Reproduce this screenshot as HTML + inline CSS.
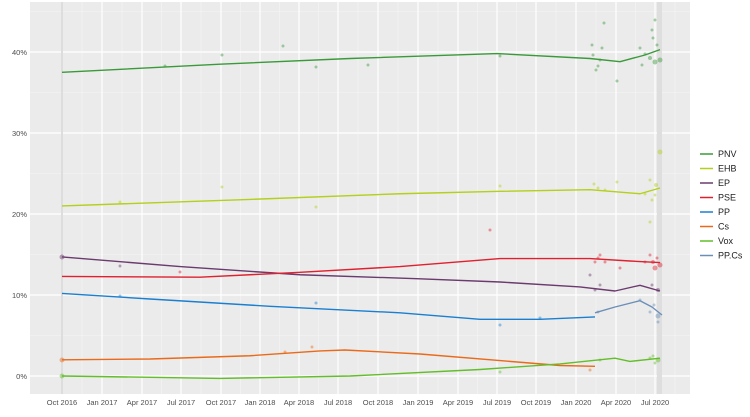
<!DOCTYPE html><html><head><meta charset="utf-8"><style>body{margin:0;background:#fff}svg{display:block;font-family:"Liberation Sans",sans-serif}</style></head><body>
<svg width="750" height="417" viewBox="0 0 750 417">
<rect x="30" y="2" width="660" height="392" fill="#ebebeb"/>
<g stroke="#f5f5f5" stroke-width="0.6">
<line x1="30" x2="690" y1="335.5" y2="335.5"/><line x1="30" x2="690" y1="254.5" y2="254.5"/><line x1="30" x2="690" y1="173.5" y2="173.5"/><line x1="30" x2="690" y1="92.5" y2="92.5"/><line x1="30" x2="690" y1="11.5" y2="11.5"/>
<line y1="2" y2="394" x1="82" x2="82"/><line y1="2" y2="394" x1="122" x2="122"/><line y1="2" y2="394" x1="161.5" x2="161.5"/><line y1="2" y2="394" x1="201" x2="201"/><line y1="2" y2="394" x1="240.5" x2="240.5"/><line y1="2" y2="394" x1="279.5" x2="279.5"/><line y1="2" y2="394" x1="318.5" x2="318.5"/><line y1="2" y2="394" x1="358" x2="358"/><line y1="2" y2="394" x1="398" x2="398"/><line y1="2" y2="394" x1="438" x2="438"/><line y1="2" y2="394" x1="477.5" x2="477.5"/><line y1="2" y2="394" x1="516.5" x2="516.5"/><line y1="2" y2="394" x1="556" x2="556"/><line y1="2" y2="394" x1="596" x2="596"/><line y1="2" y2="394" x1="635.5" x2="635.5"/><line y1="2" y2="394" x1="675" x2="675"/>
</g>
<g stroke="#fff" stroke-width="1.2">
<line x1="30" x2="690" y1="376" y2="376"/><line x1="30" x2="690" y1="295" y2="295"/><line x1="30" x2="690" y1="214" y2="214"/><line x1="30" x2="690" y1="133" y2="133"/><line x1="30" x2="690" y1="52" y2="52"/>
<line y1="2" y2="394" x1="102" x2="102"/><line y1="2" y2="394" x1="142" x2="142"/><line y1="2" y2="394" x1="181" x2="181"/><line y1="2" y2="394" x1="221" x2="221"/><line y1="2" y2="394" x1="260" x2="260"/><line y1="2" y2="394" x1="299" x2="299"/><line y1="2" y2="394" x1="338" x2="338"/><line y1="2" y2="394" x1="378" x2="378"/><line y1="2" y2="394" x1="418" x2="418"/><line y1="2" y2="394" x1="458" x2="458"/><line y1="2" y2="394" x1="497" x2="497"/><line y1="2" y2="394" x1="536" x2="536"/><line y1="2" y2="394" x1="576" x2="576"/><line y1="2" y2="394" x1="616" x2="616"/><line y1="2" y2="394" x1="655" x2="655"/>
</g>
<rect x="61" y="2" width="2" height="392" fill="#ddd"/><rect x="657" y="2" width="5" height="392" fill="#dedede"/>
<g fill-opacity="0.45" stroke="none">
<g fill="#3a9a3a"><circle cx="165" cy="66" r="1.5"/><circle cx="222" cy="55" r="1.5"/><circle cx="283" cy="46" r="1.5"/><circle cx="316" cy="67" r="1.5"/><circle cx="368" cy="65" r="1.5"/><circle cx="500" cy="56" r="1.5"/><circle cx="592" cy="45" r="1.5"/><circle cx="600" cy="60" r="1.5"/><circle cx="604" cy="23" r="1.5"/><circle cx="596" cy="70" r="1.5"/><circle cx="617" cy="81" r="1.5"/><circle cx="640" cy="48" r="1.5"/><circle cx="652" cy="30" r="1.5"/><circle cx="655" cy="62" r="2.5"/><circle cx="660" cy="60" r="2.5"/><circle cx="655" cy="20" r="1.5"/><circle cx="593" cy="55" r="1.5"/><circle cx="602" cy="48" r="1.5"/><circle cx="598" cy="66" r="1.5"/><circle cx="650" cy="58" r="2"/><circle cx="653" cy="38" r="1.5"/><circle cx="657" cy="45" r="1.5"/><circle cx="645" cy="54" r="1.5"/><circle cx="642" cy="65" r="1.5"/></g>
<g fill="#b5cf1a"><circle cx="120" cy="202" r="1.5"/><circle cx="222" cy="187" r="1.5"/><circle cx="316" cy="207" r="1.5"/><circle cx="500" cy="186" r="1.5"/><circle cx="594" cy="184" r="1.5"/><circle cx="605" cy="190" r="1.5"/><circle cx="617" cy="182" r="1.5"/><circle cx="650" cy="180" r="1.5"/><circle cx="655" cy="195" r="1.5"/><circle cx="660" cy="152" r="2.5"/><circle cx="650" cy="222" r="1.5"/><circle cx="598" cy="188" r="1.5"/><circle cx="652" cy="200" r="1.5"/><circle cx="656" cy="185" r="2"/><circle cx="645" cy="194" r="1.5"/></g>
<g fill="#e0202e"><circle cx="490" cy="230" r="1.5"/><circle cx="600" cy="255" r="1.5"/><circle cx="605" cy="262" r="1.5"/><circle cx="620" cy="268" r="1.5"/><circle cx="650" cy="255" r="1.5"/><circle cx="655" cy="268" r="2.5"/><circle cx="660" cy="265" r="2.5"/><circle cx="180" cy="272" r="1.5"/><circle cx="595" cy="262" r="1.5"/><circle cx="598" cy="258" r="1.5"/><circle cx="653" cy="262" r="2"/><circle cx="657" cy="258" r="1.5"/><circle cx="645" cy="262" r="1.5"/></g>
<g fill="#6b3a6e"><circle cx="62" cy="257" r="2.5"/><circle cx="120" cy="266" r="1.5"/><circle cx="590" cy="275" r="1.5"/><circle cx="600" cy="285" r="1.5"/><circle cx="658" cy="290" r="2"/><circle cx="595" cy="290" r="1.5"/><circle cx="652" cy="285" r="1.5"/></g>
<g fill="#1a7fd0"><circle cx="120" cy="296" r="1.5"/><circle cx="316" cy="303" r="1.5"/><circle cx="500" cy="325" r="1.5"/><circle cx="540" cy="318" r="1.5"/></g>
<g fill="#6b8fb8"><circle cx="640" cy="300" r="1.5"/><circle cx="650" cy="312" r="1.5"/><circle cx="658" cy="316" r="2.5"/><circle cx="658" cy="322" r="1.5"/><circle cx="598" cy="312" r="1.5"/><circle cx="654" cy="305" r="1.5"/></g>
<g fill="#ea6a1a"><circle cx="62" cy="360" r="2.5"/><circle cx="285" cy="352" r="1.5"/><circle cx="312" cy="347" r="1.5"/><circle cx="590" cy="370" r="1.5"/></g>
<g fill="#63be2a"><circle cx="62" cy="376" r="2.5"/><circle cx="500" cy="372" r="1.5"/><circle cx="600" cy="360" r="1.5"/><circle cx="650" cy="358" r="1.5"/><circle cx="658" cy="360" r="2.5"/><circle cx="653" cy="356" r="1.5"/><circle cx="655" cy="363" r="1.5"/></g>
</g>
<g fill="none" stroke-width="1.4" stroke-linejoin="round">
<polyline stroke="#3a9a3a" points="62,72.3 220,64.2 350,58.5 497,53.6 590,58.5 620,61.7 645,55 660,49.6"/>
<polyline stroke="#b5cf1a" points="62,205.9 250,199.4 400,193.75 500,191.3 590,189.7 640,193.75 660,188"/>
<polyline stroke="#6b3a6e" points="62,256.9 180,266.6 300,274.75 420,278.8 500,282 580,286.9 615,291 640,285.3 660,291"/>
<polyline stroke="#e0202e" points="62,276.4 200,277.2 300,272.3 400,266.6 500,258.55 590,258.55 630,261 660,262.6"/>
<polyline stroke="#1a7fd0" points="62,293.4 150,299 270,306.3 400,312.8 480,319.3 540,319.3 595,316.9"/>
<polyline stroke="#6b8fb8" points="595,312.8 615,307 640,300.7 652,307 662,315"/>
<polyline stroke="#ea6a1a" points="62,359.8 150,359 250,355.75 320,350.9 345,350 420,354 500,360.6 560,365.5 595,366.3"/>
<polyline stroke="#63be2a" points="62,376 220,378.4 350,376 480,369.5 560,363.9 615,358.2 630,361.4 660,358.2"/>
</g>
<g font-size="7.5" fill="#4d4d4d" text-anchor="end">
<text x="27" y="379">0%</text><text x="27" y="298">10%</text><text x="27" y="217">20%</text><text x="27" y="136">30%</text><text x="27" y="55">40%</text>
</g>
<g font-size="7.5" fill="#4d4d4d" text-anchor="middle">
<text x="62" y="405">Oct 2016</text><text x="102" y="405">Jan 2017</text><text x="142" y="405">Apr 2017</text><text x="181" y="405">Jul 2017</text><text x="221" y="405">Oct 2017</text><text x="260" y="405">Jan 2018</text><text x="299" y="405">Apr 2018</text><text x="338" y="405">Jul 2018</text><text x="378" y="405">Oct 2018</text><text x="418" y="405">Jan 2019</text><text x="458" y="405">Apr 2019</text><text x="497" y="405">Jul 2019</text><text x="536" y="405">Oct 2019</text><text x="576" y="405">Jan 2020</text><text x="616" y="405">Apr 2020</text><text x="655" y="405">Jul 2020</text>
</g>
<g stroke-width="1.5">
<line x1="700" x2="713" y1="154" y2="154" stroke="#3a9a3a"/><line x1="700" x2="713" y1="168.5" y2="168.5" stroke="#b5cf1a"/><line x1="700" x2="713" y1="183" y2="183" stroke="#6b3a6e"/><line x1="700" x2="713" y1="197.5" y2="197.5" stroke="#e0202e"/><line x1="700" x2="713" y1="212" y2="212" stroke="#1a7fd0"/><line x1="700" x2="713" y1="226.5" y2="226.5" stroke="#ea6a1a"/><line x1="700" x2="713" y1="241" y2="241" stroke="#63be2a"/><line x1="700" x2="713" y1="255.5" y2="255.5" stroke="#6b8fb8"/>
</g>
<g font-size="9" fill="#222">
<text x="718" y="157">PNV</text><text x="718" y="171.5">EHB</text><text x="718" y="186">EP</text><text x="718" y="200.5">PSE</text><text x="718" y="215">PP</text><text x="718" y="229.5">Cs</text><text x="718" y="244">Vox</text><text x="718" y="258.5">PP.Cs</text>
</g>
</svg></body></html>
